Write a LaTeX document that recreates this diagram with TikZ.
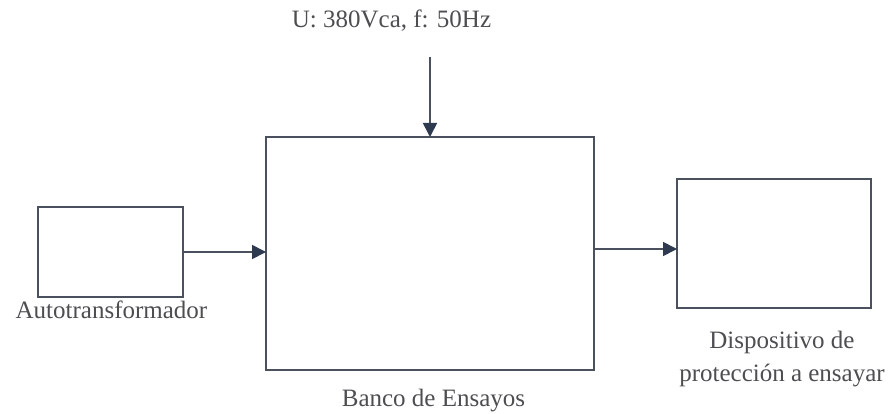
\documentclass[tikz,border=0pt]{standalone}
\usepackage{fontspec}
\setmainfont{Liberation Serif}
\usetikzlibrary{arrows.meta}
\definecolor{linec}{HTML}{4A505C}
\definecolor{tipc}{HTML}{2E3A50}
\definecolor{txtc}{HTML}{4E4E52}
\begin{document}
\begin{tikzpicture}[x=1pt,y=-1pt,
  box/.style={draw=linec,line width=1.7pt,inner sep=0pt,outer sep=0pt},
  lbl/.style={text=txtc,font=\fontsize{25}{33}\selectfont,inner sep=0pt,align=center,anchor=base},
  conn/.style={draw=linec,line width=1.7pt,-{Triangle[length=14pt,width=14pt,fill=tipc,color=tipc]}}]
\useasboundingbox[fill=white] (0,0) rectangle (891,414);
\node[box,minimum width=328pt,minimum height=233pt] (bank) at (430,253.5) {};
\node[box,minimum width=145pt,minimum height=90pt] (auto) at (110.5,252) {};
\node[box,minimum width=194pt,minimum height=129pt] (dev) at (774,243.5) {};
\node[lbl] (supply) at (391.5,28) {U: 380Vca, f: 50Hz};
\node[lbl] (autolbl) at (111.5,318) {Autotransformador};
\node[lbl] (banklbl) at (433.5,406) {Banco de Ensayos};
\node[lbl] (devlbl) at (782,381) {Dispositivo de\\protección a ensayar};
\coordinate (src) at (430,57);
\draw[conn] (src) -- (bank.north);
\draw[conn] (auto.east) -- (auto.east -| bank.west);
\draw[conn] ([yshift=-5.5pt]dev.west -| bank.east) -- ([yshift=-5.5pt]dev.west);
\end{tikzpicture}
\end{document}
